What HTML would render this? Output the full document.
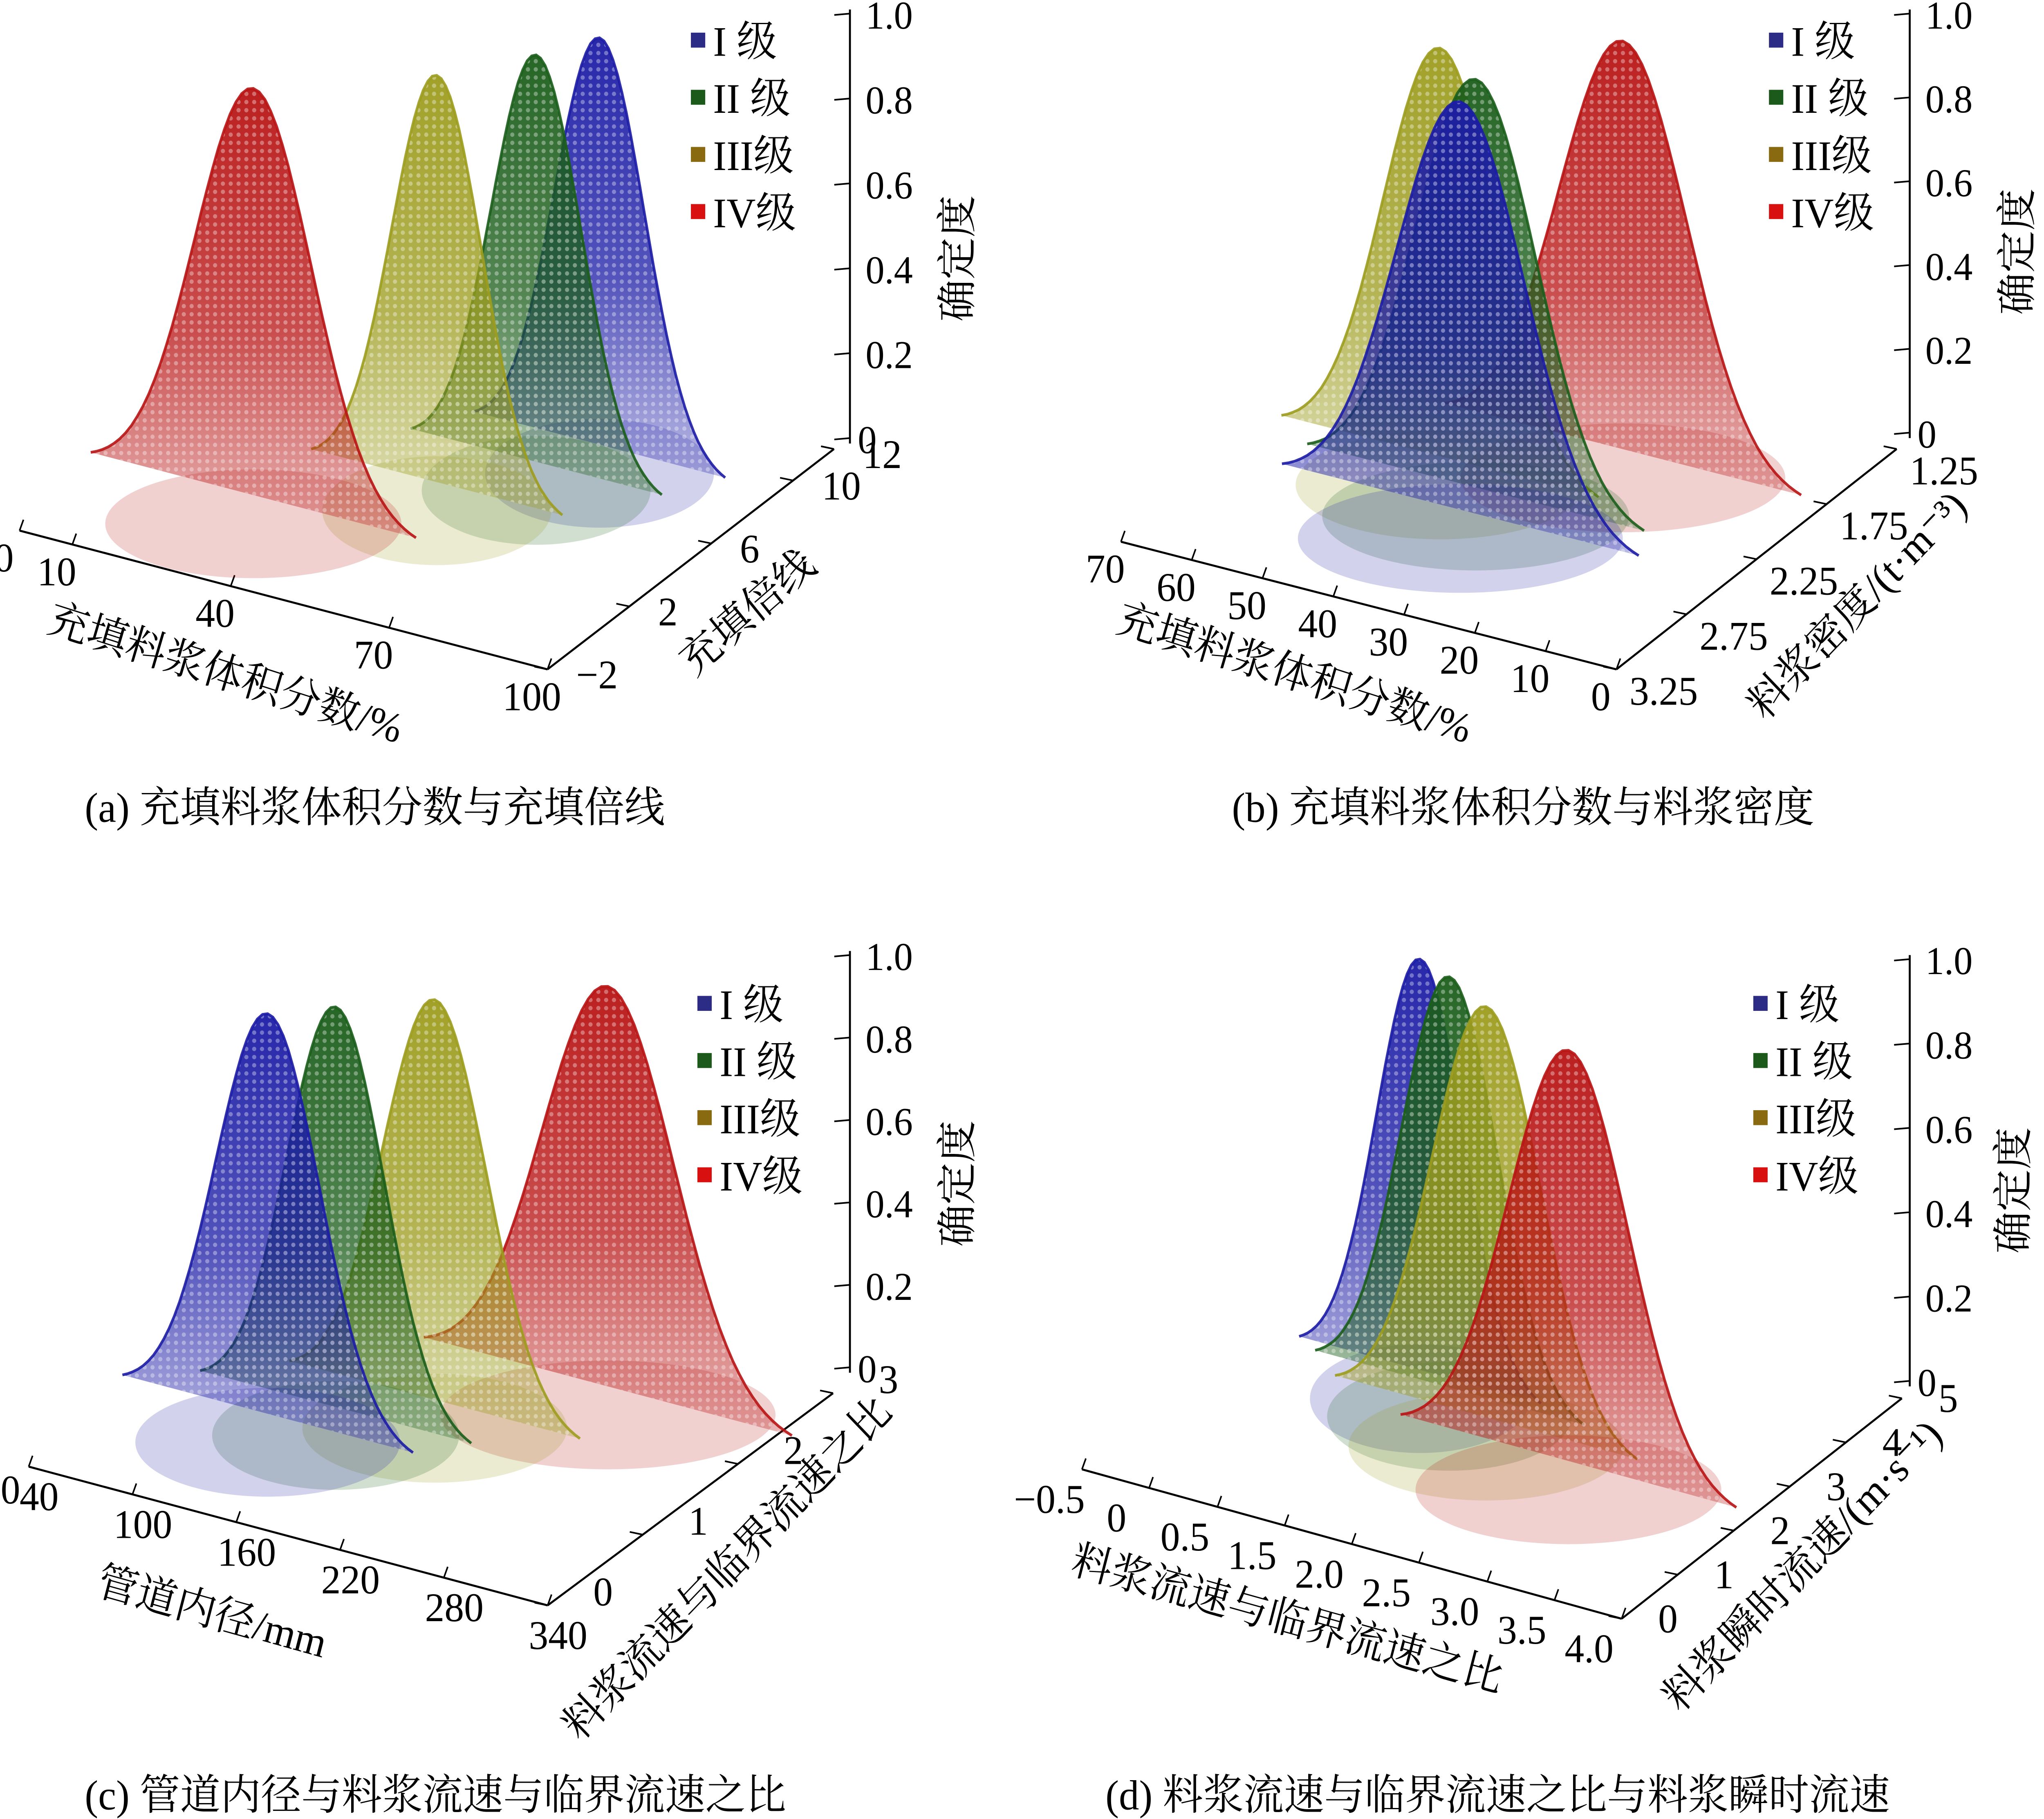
<!DOCTYPE html>
<html><head><meta charset="utf-8">
<style>
html,body{margin:0;padding:0;background:#fff;overflow:hidden;}
svg{display:block;position:absolute;left:0;top:0;width:100vw;height:100vh;}
text{font-family:"Liberation Serif","Noto Serif CJK SC",serif;fill:#000;}
</style></head>
<body>
<svg id="chart" xmlns="http://www.w3.org/2000/svg" width="5219" height="4450" viewBox="0 0 1568 1337" preserveAspectRatio="none">
<defs id="defs"></defs>
<g id="root"></g>
</svg>
<script>
const grades=['I 级','II 级','III级','IV级'];
const cloudColors=['#1c1ca6','#1b5e1b','#9c9c1e','#b81414'];
const legendColors=['#2c2c86','#1c5a1c','#8a6a10','#d81010'];
const zTicks=[0,0.2,0.4,0.6,0.8,1.0];
const zTickLabels=['0','0.2','0.4','0.6','0.8','1.0'];
// panel a
const aCenterX=[67.6,61.8,51.5,28];
const aCenterY=[8.9,7.3,5.1,2.2];
const aSigma=[8.5,8.5,8.5,11];
const aXTicks=[0,10,40,70,100];
const aXTickLabels=['0','10','40','70','100'];
const aYTicks=[-2,2,6,10,12];
const aYTickLabels=['\u22122','2','6','10','12'];
// panel b
const bCenterX=[37.1,38.5,46.5,28];
const bCenterY=[2.49,2.31,2.16,1.79];
const bSigma=[9,8.5,8,9];
const bXTicks=[70,60,50,40,30,20,10,0];
const bXTickLabels=['70','60','50','40','30','20','10','0'];
const bYTicks=[1.25,1.75,2.25,2.75,3.25];
const bYTickLabels=['1.25','1.75','2.25','2.75','3.25'];
// panel c
const cCenterX=[116,141,179,245];
const cCenterY=[1.13,1.39,1.74,2.36];
const cSigma=[30,28,30,38];
const cXTicks=[40,100,160,220,280,340];
const cXTickLabels=['40','100','160','220','280','340'];
const cYTicks=[0,1,2,3];
const cYTickLabels=['0','1','2','3'];
// panel d
const dCenterX=[0.87,1.19,1.65,2.5];
const dCenterY=[3.1,2.94,2.61,2.26];
const dSigma=[0.36,0.4,0.45,0.5];
const dXTicks=[-0.5,0.06,0.63,1.19,1.75,2.31,2.88,3.44,4.0];
const dXTickLabels=['\u22120.5','0','0.5','1.5','2.0','2.5','3.0','3.5','4.0'];
const dYTicks=[0,1,2,3,4,5];
const dYTickLabels=['0','1','2','3','4','5'];

const NS='http://www.w3.org/2000/svg';
const root=document.getElementById('root');
const defs=document.getElementById('defs');
function el(tag,attrs,parent){const e=document.createElementNS(NS,tag);for(const k in attrs)e.setAttribute(k,attrs[k]);(parent||root).appendChild(e);return e;}

cloudColors.forEach((c,i)=>{
  const g=el('linearGradient',{id:'grad'+i,x1:0,y1:0,x2:0,y2:1},defs);
  el('stop',{offset:'0','stop-color':c,'stop-opacity':'0.95'},g);
  el('stop',{offset:'0.55','stop-color':c,'stop-opacity':'0.75'},g);
  el('stop',{offset:'1','stop-color':c,'stop-opacity':'0.3'},g);
});
const pat=el('pattern',{id:'dots',width:6,height:6,patternUnits:'userSpaceOnUse'},defs);
el('circle',{cx:3,cy:3,r:1.6,fill:'#fff','fill-opacity':0.35},pat);

const panels=[
 {id:'a',O:[15,390],X0:0,Y0:-2,ex:[4.05,1.02],ey:[15.7,-11.57],zs:305,Xmin:0,Xmax:100,Ymax:12,
  cx:aCenterX,cy:aCenterY,sg:aSigma,xt:aXTicks,xl:aXTickLabels,yt:aYTicks,yl:aYTickLabels,
  xoff:[-12,30],yoff:[22,14],vx:652,vy0:322,vy1:10,leg:[530,30],
  xlab:{t:'充填料浆体积分数/%',x:170,y:505,r:17},ylab:{t:'充填倍线',x:580,y:458,r:-40},zlab:{x:745,y:190},
  cap:{t:'(a)  充填料浆体积分数与充填倍线',x:65,y:604}},
 {id:'b',O:[1240,492],X0:0,Y0:3.25,ex:[-5.43,-1.34],ey:[-107.5,81],zs:306,Xmin:70,Xmax:0,Ymax:1.25,
  cx:bCenterX,cy:bCenterY,sg:bSigma,xt:bXTicks,xl:bXTickLabels,yt:bYTicks,yl:bYTickLabels,
  xoff:[-12,30],yoff:[10,26],vx:1465,vy0:318,vy1:10,leg:[1357,30],
  xlab:{t:'充填料浆体积分数/%',x:990,y:505,r:17},ylab:{t:'料浆密度/(t·m⁻³)',x:1432,y:452,r:-45},zlab:{x:1558,y:185},
  cap:{t:'(b)  充填料浆体积分数与料浆密度',x:945,y:604}},
 {id:'c',O:[22,1078],X0:40,Y0:0,ex:[1.327,0.34],ey:[73,-52],zs:300,Xmin:40,Xmax:340,Ymax:3,
  cx:cCenterX,cy:cCenterY,sg:cSigma,xt:cXTicks,xl:cXTickLabels,yt:cYTicks,yl:cYTickLabels,
  xoff:[8,32],yoff:[35,0],vx:652,vy0:1005,vy1:702,leg:[535,738],
  xlab:{t:'管道内径/mm',x:160,y:1195,r:15},ylab:{t:'料浆流速与临界流速之比',x:565,y:1160,r:-45},zlab:{x:745,y:870},
  cap:{t:'(c)  管道内径与料浆流速与临界流速之比',x:65,y:1330},extra:{t:'0',x:8,y:1105}},
 {id:'d',O:[830,1080],X0:-0.5,Y0:0,ex:[92,24.4],ey:[43,-32.4],zs:308,Xmin:-0.5,Xmax:4,Ymax:5,
  cx:dCenterX,cy:dCenterY,sg:dSigma,xt:dXTicks,xl:dXTickLabels,yt:dYTicks,yl:dYTickLabels,
  xoff:[-25,32],yoff:[28,10],vx:1465,vy0:1015,vy1:705,leg:[1345,738],
  xlab:{t:'料浆流速与临界流速之比',x:985,y:1200,r:15},ylab:{t:'料浆瞬时流速/(m·s⁻¹)',x:1390,y:1158,r:-45},zlab:{x:1555,y:875},
  cap:{t:'(d)  料浆流速与临界流速之比与料浆瞬时流速',x:848,y:1330}}
];

panels.forEach(p=>{
  const g=el('g',{});
  
  
  const proj=(X,Y,z)=>[p.O[0]+(X-p.X0)*p.ex[0]+(Y-p.Y0)*p.ey[0], p.O[1]+(X-p.X0)*p.ex[1]+(Y-p.Y0)*p.ey[1]-z*p.zs];
  const a0=proj(p.Xmin,p.Y0,0), a1=proj(p.Xmax,p.Y0,0);
  const xa=el('line',{x1:a0[0],y1:a0[1],x2:a1[0],y2:a1[1],stroke:'#000','stroke-width':1.5},g);
  
  
  const b1=proj(p.Xmax,p.Ymax,0);
  const ya=el('line',{x1:a1[0],y1:a1[1],x2:b1[0],y2:b1[1],stroke:'#000','stroke-width':1.5},g);
  
  
  const za=el('line',{x1:p.vx,y1:p.vy0+4,x2:p.vx,y2:p.vy1-3,stroke:'#000','stroke-width':1.5},g);
  
  
  p.xt.forEach((v,i)=>{
    const q=proj(v,p.Y0,0);
    el('line',{x1:q[0],y1:q[1],x2:q[0]+3,y2:q[1]-8,stroke:'#000','stroke-width':1.2},g);
    const t=el('text',{x:q[0]+p.xoff[0],y:q[1]+p.xoff[1],'font-size':30,'text-anchor':'middle'},g);
    t.textContent=p.xl[i];
    
    
  });
  p.yt.forEach((v,i)=>{
    const q=proj(p.Xmax,v,0);
    el('line',{x1:q[0],y1:q[1],x2:q[0]-10,y2:q[1]-2,stroke:'#000','stroke-width':1.2},g);
    const t=el('text',{x:q[0]+p.yoff[0],y:q[1]+p.yoff[1],'font-size':30,'text-anchor':'start'},g);
    t.textContent=p.yl[i];
    
    
  });
  const zy=z=>p.vy0+(p.vy1-p.vy0)*z;
  zTicks.forEach((v,i)=>{
    const y=zy(v);
    el('line',{x1:p.vx,y1:y,x2:p.vx-12,y2:y+1,stroke:'#000','stroke-width':1.2},g);
    const t=el('text',{x:p.vx+(i===0?6:12),y:y+11,'font-size':29},g);
    t.textContent=zTickLabels[i];
    
    
  });
  const order=p.cx.map((_,i)=>i).sort((i,j)=>proj(p.cx[i],p.cy[i],0)[1]-proj(p.cx[j],p.cy[j],0)[1]);
  order.forEach(i=>{
    const cg=el('g',{},g);
    
    
    const base=proj(p.cx[i],p.cy[i],0);
    const s0=proj(p.cx[i]-3*p.sg[i],p.cy[i],0), s1=proj(p.cx[i]+3*p.sg[i],p.cy[i],0);
    const rx=Math.abs(s1[0]-s0[0])/2;
    el('ellipse',{cx:base[0],cy:base[1]+15,rx:rx*0.85,ry:40,fill:cloudColors[i],'fill-opacity':0.2},cg);
    let pts=[];
    for(let t=-2.8;t<=2.801;t+=0.1){
      const q=proj(p.cx[i]+t*p.sg[i],p.cy[i],Math.exp(-t*t/2));
      pts.push(q[0].toFixed(1)+','+q[1].toFixed(1));
    }
    el('polygon',{points:pts.join(' '),fill:'url(#grad'+i+')'},cg);
    el('polygon',{points:pts.join(' '),fill:'url(#dots)'},cg);
    el('polyline',{points:pts.join(' '),fill:'none',stroke:cloudColors[i],'stroke-opacity':0.9,'stroke-width':2},cg);
  });
  grades.forEach((gr,i)=>{
    const y=p.leg[1]+i*42;
    const sq=el('rect',{x:p.leg[0],y:y-6,width:11,height:11,fill:legendColors[i]},g);
    
    
    const t=el('text',{x:p.leg[0]+17,y:y+11,'font-size':31},g);
    t.textContent=gr;
    
    
  });
  const xl=el('text',{x:p.xlab.x,y:p.xlab.y,'font-size':31,'text-anchor':'middle',transform:`rotate(${p.xlab.r} ${p.xlab.x} ${p.xlab.y})`},g);
  xl.textContent=p.xlab.t;
  
  
  const yl=el('text',{x:p.ylab.x,y:p.ylab.y,'font-size':31,'text-anchor':'middle',transform:`rotate(${p.ylab.r} ${p.ylab.x} ${p.ylab.y})`},g);
  yl.textContent=p.ylab.t;
  
  
  const zl=el('text',{x:p.zlab.x,y:p.zlab.y,'font-size':31,'text-anchor':'middle',transform:`rotate(-90 ${p.zlab.x} ${p.zlab.y})`},g);
  zl.textContent='确定度';
  
  
  const cap=el('text',{x:p.cap.x,y:p.cap.y,'font-size':31},g);
  cap.textContent=p.cap.t;
  
  
  if(p.extra){const e=el('text',{x:p.extra.x,y:p.extra.y,'font-size':30,'text-anchor':'middle'},g);e.textContent=p.extra.t;
    
    }
});
</script>
</body></html>
